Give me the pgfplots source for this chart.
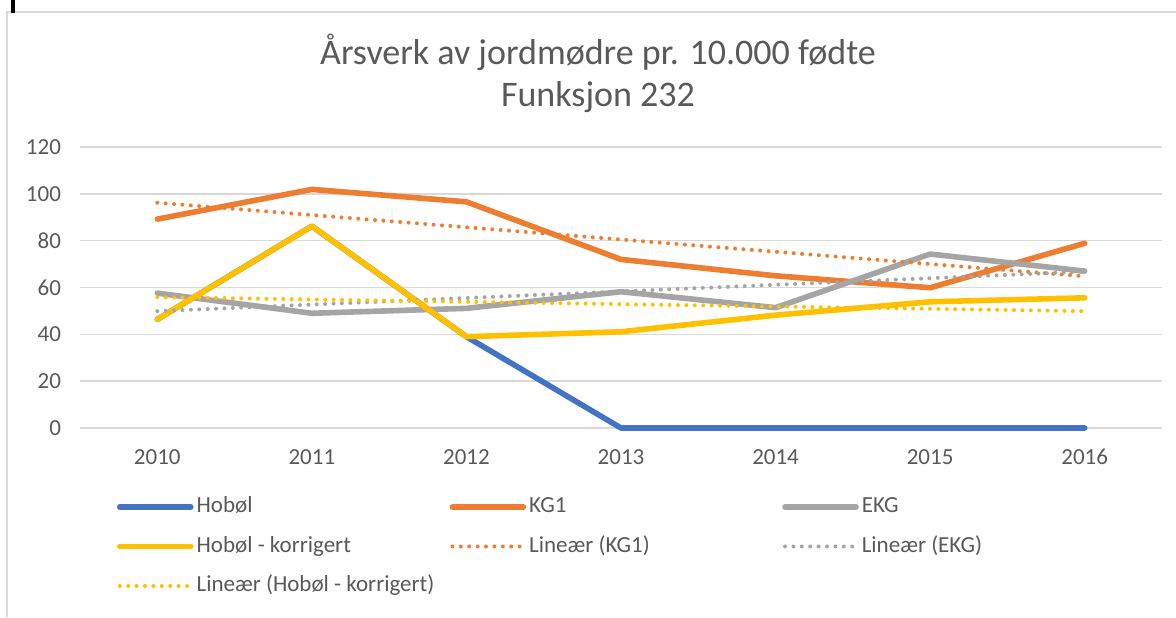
\documentclass[border=0pt]{standalone}
\usepackage{fontspec}
\setmainfont{Carlito}
\usepackage{pgfplots}
\pgfplotsset{compat=1.18}
\definecolor{cBlue}{HTML}{4472C4}
\definecolor{cOrange}{HTML}{ED7D31}
\definecolor{cGray}{HTML}{A5A5A5}
\definecolor{cYellow}{HTML}{FFC000}
\definecolor{cText}{HTML}{595959}
\definecolor{cGrid}{HTML}{D9D9D9}
\newcommand\lt[1]{\makebox[128pt][l]{\hspace{1.5pt}\rule[-3pt]{0pt}{15pt}#1}}
\newcommand\ltl[1]{\hspace{1.5pt}\rule[-3pt]{0pt}{15pt}#1}
\begin{document}
\begin{tikzpicture}
\useasboundingbox (0,0) rectangle (588pt,-308.5pt);
\draw[cGrid, line width=0.9pt] (3.5pt,-308.5pt) -- (3.5pt,-6pt) -- (588pt,-6pt);
\draw[black, line width=2pt] (6.5pt,0pt) -- (6.5pt,-6.5pt);
\node[text=cText, font=\fontsize{18}{22}\selectfont, inner sep=0pt] at (299pt,-26pt) {Årsverk av jordmødre pr. 10.000 fødte};
\node[text=cText, font=\fontsize{18}{22}\selectfont, inner sep=0pt] at (299pt,-48.5pt) {Funksjon 232};
\begin{axis}[
  at={(40pt,-214pt)}, anchor=south west,
  scale only axis, width=541pt, height=140.5pt,
  xmin=-0.5, xmax=6.5, ymin=0, ymax=120,
  ytick={0,20,...,120},
  xtick={0,...,6},
  xticklabels={2010,2011,2012,2013,2014,2015,2016},
  axis line style={draw=none}, tick style={draw=none},
  ymajorgrids, major grid style={cGrid, line width=0.75pt},
  ticklabel style={font=\fontsize{11.5}{13}\selectfont, text=cText},
  /pgf/number format/assume math mode=true,
  yticklabel style={xshift=-6pt},
  xticklabel style={yshift=-7pt},
  clip=false,
  legend columns=3,
  legend style={at={(0.0342,-0.217)}, anchor=north west, draw=none, fill=none,
    inner sep=0pt, outer sep=0pt, row sep=6.25pt, column sep=0pt,
    nodes={inner sep=0pt, text=cText, font=\fontsize{11.5}{13}\selectfont},
    cells={anchor=base west}},
  legend image code/.code={\draw[#1] (0pt,3pt) -- (35.5pt,3pt);},
  solid/.style={line width=2.8pt, line join=round, line cap=round},
  trend/.style={line width=2pt, line cap=round, dash pattern=on 0pt off 4.2pt},
]
\addplot[cBlue, solid] coordinates {(0,46.4) (1,86.2) (2,39) (3,0) (4,0) (5,0) (6,0)};
\addlegendentry{\lt{Hobøl}}
\addplot[cOrange, solid] coordinates {(0,89.2) (1,101.9) (2,96.6) (3,72) (4,65) (5,59.9) (6,78.9)};
\addlegendentry{\lt{KG1}}
\addplot[cGray, solid] coordinates {(0,57.6) (1,49) (2,51.1) (3,58.2) (4,51.4) (5,74.3) (6,67)};
\addlegendentry{\ltl{EKG}}
\addplot[cYellow, solid] coordinates {(0,46.4) (1,86.2) (2,39) (3,41.1) (4,48.2) (5,53.9) (6,55.6)};
\addlegendentry{\lt{Hobøl - korrigert}}
\addplot[cOrange, trend] coordinates {(0,96.2) (6,64.8)};
\addlegendentry{\lt{Lineær (KG1)}}
\addplot[cGray, trend] coordinates {(0,49.9) (6,66.8)};
\addlegendentry{\ltl{Lineær (EKG)}}
\addplot[cYellow, trend] coordinates {(0,55.9) (6,49.9)};
\addlegendentry{\lt{Lineær (Hobøl - korrigert)}}
\end{axis}
\end{tikzpicture}
\end{document}
